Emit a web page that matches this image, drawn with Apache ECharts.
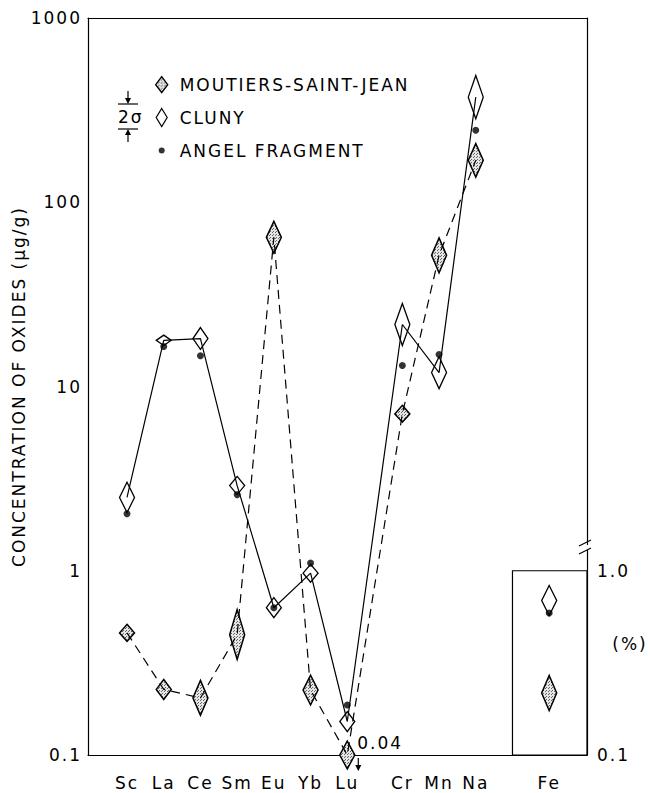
<!DOCTYPE html>
<html>
<head>
<meta charset="utf-8">
<script src="https://cdn.jsdelivr.net/npm/echarts@6/dist/echarts.min.js"></script>
<style>
  html, body { margin: 0; padding: 0; background: #fff; }
  #main { width: 650px; height: 793px; }
  #probe { position: absolute; left: -2000px; top: 0; width: 650px; height: 793px; }
  /* the original lettering is widely spaced */
  #main text { letter-spacing: 2px; }
</style>
</head>
<body>
<div id="main"></div>
<div id="probe"></div>
<script>
// elements along the x axis (gap between Lu/Cr and Na/Fe)
const elements = ['Sc', 'La', 'Ce', 'Sm', 'Eu', 'Yb', 'Lu', 'Cr', 'Mn', 'Na', 'Fe'];
const xPos = [1, 2, 3, 4, 5, 6, 7, 8.5, 9.5, 10.5, 12.5];
const boxLeft = 11.5; // left edge of the Fe (%) inset

// Moutiers-Saint-Jean, ug/g (Fe in %), with 2 sigma range
const moutiers = [0.46, 0.227, 0.204, 0.45, 64.5, 0.225, 0.1, 7.1, 51.5, 169, 0.217];
const moutiersLow = [0.414, 0.200, 0.164, 0.33, 52.8, 0.187, 0.084, 6.4, 41.4, 137, 0.174];
const moutiersHigh = [0.512, 0.257, 0.254, 0.615, 78.8, 0.271, 0.119, 7.9, 64.1, 208, 0.270];

// Cluny
const cluny = [2.5, 17.8, 18.2, 2.9, 0.63, 0.97, 0.152, 21.7, 11.9, 372, 0.69];
const clunyLow = [2.07, 16.7, 15.9, 2.59, 0.556, 0.867, 0.134, 16.7, 9.74, 284, 0.572];
const clunyHigh = [3.02, 19.0, 20.9, 3.25, 0.714, 1.085, 0.172, 28.2, 14.5, 487, 0.832];

// Angel fragment
const angel = [2.04, 16.5, 14.7, 2.59, 0.63, 1.1, 0.187, 13.0, 14.9, 246, 0.59];

const decades = [0.1, 1, 10, 100, 1000];
const luLimit = '0.04';       // Moutiers Lu, below the axis
const pctLabels = {'0.1': '0.1', '1': '1.0'};
const breakValue = 1.33;      // where the right axis is broken

const FONT = 'DejaVu Sans';
const xMin = -0.063, xMax = 13.53;

// log minor ticks: 2..9 in every decade
const minorValues = [];
decades.slice(0, 4).forEach(d => {
    for (let k = 2; k <= 9; k++) minorValues.push(+(d * k).toPrecision(3));
});

// grey stipple for the Moutiers diamonds
function stipple() {
    const c = document.createElement('canvas');
    c.width = 3; c.height = 3;
    const g = c.getContext('2d');
    g.fillStyle = '#e6e6e6';
    g.fillRect(0, 0, 3, 3);
    g.fillStyle = '#666';
    g.fillRect(0, 0, 1, 1);
    g.fillRect(2, 1, 1, 1);
    return {image: c, repeat: 'repeat', imageWidth: 3, imageHeight: 3};
}
const dots = stipple();

function diamonds(fill, width) {
    return function (params, api) {
        const x = api.value(0);
        const c = api.coord([x, api.value(1)]);
        const lo = api.coord([x, api.value(2)]);
        const hi = api.coord([x, api.value(3)]);
        const w = 7.5;
        return {
            type: 'polygon',
            shape: {points: [[c[0], hi[1]], [c[0] + w, c[1]], [c[0], lo[1]], [c[0] - w, c[1]]]},
            style: {fill: fill, stroke: '#000', lineWidth: width}
        };
    };
}

const labelStyle = {color: '#000', fontSize: 17, fontFamily: FONT};
const logLabel = v => String(+(+v).toPrecision(4));
const line = () => ({show: true, onZero: false, lineStyle: {color: '#000', width: 1.2}});

const grid = () => ({left: 88, right: 63, top: 18, bottom: 38, containLabel: false, outerBoundsMode: 'none'});
const xAxes = () => [
    {
        type: 'value', min: xMin, max: xMax, position: 'bottom',
        axisLine: line(), splitLine: {show: false}, axisTick: {show: false},
        axisLabel: Object.assign({show: true, customValues: xPos, margin: 19,
            formatter: v => elements[xPos.indexOf(v)]}, labelStyle)
    },
    {
        type: 'value', min: xMin, max: xMax, position: 'top',
        axisLine: line(), splitLine: {show: false}, axisTick: {show: false}, axisLabel: {show: false}
    }
];
const yAxes = () => [
    {
        type: 'log', logBase: 10, min: 0.1, max: 1000, position: 'left',
        name: 'CONCENTRATION OF OXIDES (μg/g)', nameLocation: 'middle', nameGap: 50,
        nameTextStyle: labelStyle,
        axisLine: line(), splitLine: {show: false}, axisTick: {show: false},
        axisLabel: Object.assign({show: true, margin: 6, formatter: logLabel}, labelStyle)
    },
    {
        type: 'log', logBase: 10, min: 0.1, max: 1000, position: 'right',
        axisLine: line(), splitLine: {show: false}, axisTick: {show: false},
        axisLabel: Object.assign({show: true, margin: 10,
            formatter: v => pctLabels[logLabel(v)] || ''}, labelStyle)
    }
];

// same axes on an off-screen chart, to place ticks and notes through the scales
const probe = echarts.init(document.getElementById('probe'), null, {renderer: 'svg'});
probe.setOption({animation: false, grid: grid(), xAxis: xAxes(), yAxis: yAxes(),
    series: [{type: 'scatter', data: [[1, 1]]}]});
const px = v => probe.convertToPixel({xAxisIndex: 0}, v);
const py = v => probe.convertToPixel({yAxisIndex: 0}, v);
const crisp = v => Math.round(v - 0.5) + 0.5;
const L = px(xMin), R = px(xMax), T = py(1000), B = py(0.1);
const lu = [px(xPos[6]), py(0.1)];
const yb = py(breakValue);
const pct = py(0.4);
probe.dispose();

const ink = {stroke: '#000', lineWidth: 1.2};
const tickMarks = [];
function tick(x1, y1, x2, y2) {
    tickMarks.push({type: 'line', z: 50, shape: {x1: x1, y1: y1, x2: x2, y2: y2},
        style: {stroke: '#000', lineWidth: 1.2}});
}
decades.forEach(v => { const y = crisp(py(v)); tick(L, y, L + 13, y); tick(R, y, R - 13, y); });
minorValues.forEach(v => { const y = crisp(py(v)); tick(L, y, L + 10, y); tick(R, y, R - 10, y); });
xPos.forEach(v => { const x = crisp(px(v)); tick(x, B, x, B - 9); tick(x, T, x, T + 11); });
tick(crisp(px(boxLeft)), T, crisp(px(boxLeft)), T + 11);

const chart = echarts.init(document.getElementById('main'), null, {renderer: 'svg'});

chart.setOption({
    animation: false,
    backgroundColor: '#fff',
    textStyle: {fontFamily: FONT},
    grid: grid(),
    legend: {
        left: 155, top: 76, orient: 'vertical', padding: 0,
        itemWidth: 12, itemHeight: 18, itemGap: 14.5,
        selectedMode: false,
        textStyle: {color: '#000', fontSize: 17, fontFamily: FONT, padding: [0, 0, 0, 7]},
        data: [
            {name: 'MOUTIERS-SAINT-JEAN', icon: 'path://M6,1L12,9L6,17L0,9Z',
                itemStyle: {color: dots, borderColor: '#000', borderWidth: 1.4}},
            {name: 'CLUNY', icon: 'path://M6,0L11.5,9L6,18L0.5,9Z',
                itemStyle: {color: '#fff', borderColor: '#000', borderWidth: 1.2}},
            {name: 'ANGEL FRAGMENT', icon: 'path://M0,0M12,18M3,9A3,3 0 1,1 9,9A3,3 0 1,1 3,9Z',
                itemStyle: {color: '#000', borderWidth: 0}}
        ]
    },
    xAxis: xAxes(),
    yAxis: yAxes(),
    series: [
        {
            type: 'line', name: 'cluny-line', silent: true, symbol: 'none',
            data: xPos.slice(0, 10).map((x, i) => [x, cluny[i]]),
            lineStyle: {color: '#000', width: 1.2}
        },
        {
            type: 'line', name: 'moutiers-line', silent: true, symbol: 'none',
            data: xPos.slice(0, 10).map((x, i) => [x, moutiers[i]]),
            lineStyle: {color: '#000', width: 1.2, type: [9, 6]}
        },
        {
            type: 'custom', name: 'MOUTIERS-SAINT-JEAN', clip: false,
            itemStyle: {color: '#bbb'},
            renderItem: diamonds(dots, 1.5),
            data: xPos.map((x, i) => [x, moutiers[i], moutiersLow[i], moutiersHigh[i]]),
            markArea: {
                silent: true,
                itemStyle: {color: 'rgba(0,0,0,0)', borderColor: '#000', borderWidth: 1.2},
                data: [[{coord: [boxLeft, 0.1]}, {coord: [xMax, 1]}]]
            }
        },
        {
            type: 'custom', name: 'CLUNY', clip: false,
            itemStyle: {color: '#fff'},
            renderItem: diamonds('#fff', 1.3),
            data: xPos.map((x, i) => [x, cluny[i], clunyLow[i], clunyHigh[i]])
        },
        {
            type: 'scatter', name: 'ANGEL FRAGMENT', symbol: 'circle', symbolSize: 7,
            itemStyle: {color: '#000'},
            data: xPos.map((x, i) => [x, angel[i]])
        }
    ],
    graphic: tickMarks.concat([
        // 2 sigma scale bar
        {type: 'text', left: 118, top: 108, style: {text: '2σ', fontSize: 17, fontFamily: FONT, fill: '#000'}},
        {type: 'line', shape: {x1: 118, y1: 104, x2: 138, y2: 104}, style: ink},
        {type: 'line', shape: {x1: 118, y1: 129, x2: 138, y2: 129}, style: ink},
        {type: 'line', shape: {x1: 128, y1: 91, x2: 128, y2: 100}, style: ink},
        {type: 'polygon', shape: {points: [[125, 98], [131, 98], [128, 104]]}, style: {fill: '#000'}},
        {type: 'line', shape: {x1: 128, y1: 133, x2: 128, y2: 142}, style: ink},
        {type: 'polygon', shape: {points: [[125, 135], [131, 135], [128, 129]]}, style: {fill: '#000'}},
        // Lu limit for Moutiers
        {type: 'text', x: lu[0] + 10, y: lu[1] - 12,
            style: {text: luLimit, fontSize: 17, fontFamily: FONT, fill: '#000', verticalAlign: 'middle'}},
        {type: 'line', shape: {x1: lu[0] + 11, y1: lu[1] + 3, x2: lu[0] + 11, y2: lu[1] + 12}, style: ink},
        {type: 'polygon', shape: {points: [[lu[0] + 8, lu[1] + 10], [lu[0] + 14, lu[1] + 10], [lu[0] + 11, lu[1] + 16]]},
            style: {fill: '#000'}},
        // Fe inset unit
        {type: 'text', x: R + 43, y: pct,
            style: {text: '(%)', fontSize: 17, fontFamily: FONT, fill: '#000', align: 'center', verticalAlign: 'middle'}},
        // break in the right axis
        {type: 'rect', z: 100, shape: {x: R - 3, y: yb - 3, width: 6, height: 5}, style: {fill: '#fff'}},
        {type: 'line', z: 101, shape: {x1: R - 8, y1: yb - 2, x2: R + 4, y2: yb - 8}, style: ink},
        {type: 'line', z: 101, shape: {x1: R - 8, y1: yb + 6, x2: R + 4, y2: yb}, style: ink}
    ])
});
</script>
</body>
</html>
